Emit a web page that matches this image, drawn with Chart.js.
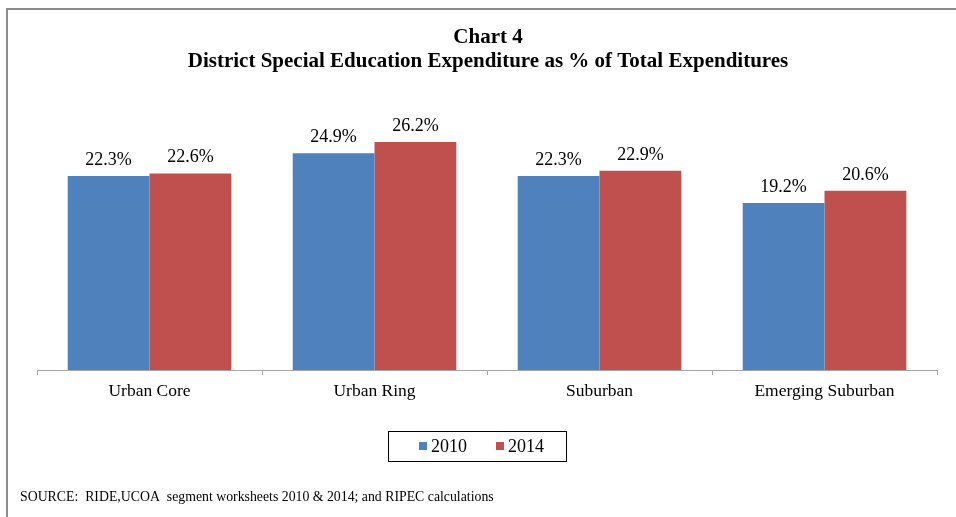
<!DOCTYPE html>
<html>
<head>
<meta charset="utf-8">
<script src="https://cdn.jsdelivr.net/npm/chart.js@4"></script>
<style>
  html, body { margin: 0; padding: 0; background: #ffffff; overflow: hidden; }
  canvas { display: block; }
</style>
</head>
<body>
<canvas id="expense-chart" width="956" height="517"></canvas>
<script>
const categories = ["Urban Core", "Urban Ring", "Suburban", "Emerging Suburban"];
const values2010 = [22.3, 24.9, 22.3, 19.2];
const values2014 = [22.6, 26.2, 22.9, 20.6];
const seriesNames = ["2010", "2014"];
const seriesColors = ["#4f81bd", "#c0504d"];
const titleLines = ["Chart 4", "District Special Education Expenditure as % of Total Expenditures"];
const sourceText = "SOURCE:  RIDE,UCOA  segment worksheets 2010 & 2014; and RIPEC calculations";

const serif = "'Liberation Serif', 'Times New Roman', serif";

// Frame, title, labels, legend, source
const decorPlugin = {
  id: "decor",
  afterDraw: (chart) => {
    const ctx = chart.ctx;
    ctx.save();

    // outer frame (clipped on right and bottom)
    ctx.strokeStyle = "#8c8c8c";
    ctx.lineWidth = 2;
    ctx.beginPath();
    ctx.moveTo(7, 530);
    ctx.lineTo(7, 9);
    ctx.lineTo(960, 9);
    ctx.stroke();

    // title
    ctx.fillStyle = "#000000";
    ctx.textAlign = "center";
    ctx.textBaseline = "alphabetic";
    ctx.font = "bold 21px " + serif;
    ctx.fillText(titleLines[0], 488, 43);
    ctx.fillText(titleLines[1], 488, 67);

    // value labels
    ctx.font = "18px " + serif;
    chart.data.datasets.forEach((dataset, i) => {
      const meta = chart.getDatasetMeta(i);
      meta.data.forEach((bar, j) => {
        ctx.fillText(dataset.data[j].toFixed(1) + "%", bar.x, bar.y - 11);
      });
    });

    // legend
    ctx.strokeStyle = "#000000";
    ctx.lineWidth = 1;
    ctx.strokeRect(388.5, 431.5, 178, 30);
    ctx.textAlign = "left";
    ctx.textBaseline = "middle";
    const legendX = [419, 496];
    seriesNames.forEach((name, i) => {
      ctx.fillStyle = seriesColors[i];
      ctx.fillRect(legendX[i], 442, 8, 8);
      ctx.fillStyle = "#000000";
      ctx.fillText(name, legendX[i] + 12, 447);
    });

    // source
    ctx.textBaseline = "alphabetic";
    ctx.font = "13.8px " + serif;
    ctx.fillText(sourceText, 20, 501);

    ctx.restore();
  },
};

// Chart
const chartElement = document.querySelector("#expense-chart");
if (chartElement) {
  new Chart(chartElement, {
    type: "bar",
    data: {
      labels: categories,
      datasets: [
        {
          label: seriesNames[0],
          data: values2010,
          backgroundColor: seriesColors[0],
        },
        {
          label: seriesNames[1],
          data: values2014,
          backgroundColor: seriesColors[1],
        },
      ],
    },
    options: {
      responsive: false,
      animation: false,
      maintainAspectRatio: false,
      devicePixelRatio: 1,
      layout: {
        padding: { left: 37, right: 19, top: 109, bottom: 109 },
      },
      datasets: {
        bar: {
          barPercentage: 1,
          categoryPercentage: 0.727,
        },
      },
      plugins: {
        legend: { display: false },
        title: { display: false },
        tooltip: { enabled: false },
      },
      scales: {
        x: {
          offset: true,
          grid: {
            display: true,
            offset: true,
            drawOnChartArea: false,
            drawTicks: true,
            tickLength: 5,
            color: "#a6a6a6",
          },
          border: { display: true, color: "#a6a6a6", width: 1 },
          ticks: {
            padding: 6,
            color: "#000000",
            font: { family: serif, size: 17.5 },
            maxRotation: 0,
          },
        },
        y: {
          display: false,
          min: 0,
          max: 30,
        },
      },
    },
    plugins: [decorPlugin],
  });
}
// End Chart
</script>
</body>
</html>
